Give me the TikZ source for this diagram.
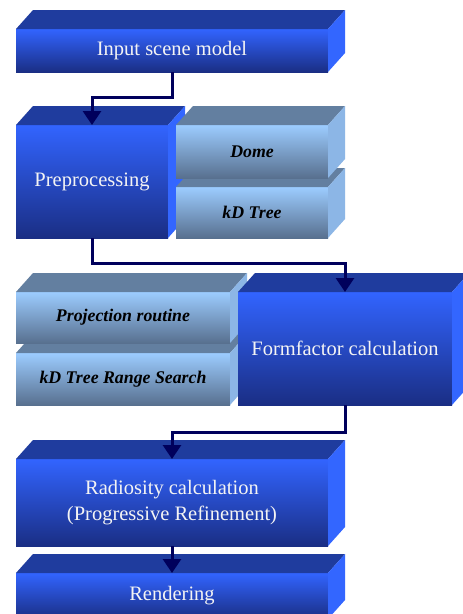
\documentclass[tikz,border=0pt]{standalone}
\usepackage{fontspec}
\setmainfont{Liberation Serif}
\usetikzlibrary{calc,arrows.meta}

\definecolor{bluehi}{HTML}{3264FF}
\definecolor{bluemid}{HTML}{2850DC}
\definecolor{bluelo}{HTML}{1A2E84}
\definecolor{bluetopc}{HTML}{1F3C9E}
\definecolor{bluesidec}{HTML}{3366FF}
\definecolor{grayhi}{HTML}{9CCCFF}
\definecolor{graylo}{HTML}{58708F}
\definecolor{graytopc}{HTML}{637FA0}
\definecolor{graysidec}{HTML}{8CB6E6}
\definecolor{arrowc}{HTML}{00005C}
\definecolor{textwhite}{HTML}{F4F4F4}

\tikzset{
  front/.style={draw=none, inner sep=0pt, outer sep=0pt, anchor=north west, align=center},
  bluefront/.style={front, top color=bluehi, middle color=bluemid, bottom color=bluelo,
    text=textwhite, font=\rmfamily\fontsize{20.5}{26}\selectfont},
  grayfront/.style={front, top color=grayhi, bottom color=graylo,
    text=black, font=\rmfamily\fontsize{17.8}{20}\selectfont\bfseries\itshape},
  bluetop/.style={fill=bluetopc},
  blueside/.style={fill=bluesidec},
  graytop/.style={fill=graytopc},
  grayside/.style={fill=graysidec},
  flow/.style={draw=arrowc, line width=3pt, line join=miter,
    -{Triangle[width=18pt,length=14pt]}}
}

% top and right faces of a block whose front face is node #1
\newcommand\blockfaces[3]{%
  \fill[#2] (#1.north west) -- ++(17,-19) -- ($(#1.north east)+(17,-19)$) -- (#1.north east) -- cycle;
  \fill[#3] (#1.north east) -- ++(17,-19) -- ($(#1.south east)+(17,-19)$) -- (#1.south east) -- cycle;}

\begin{document}
\begin{tikzpicture}[x=1pt,y=-1pt]
  \clip (0,0) rectangle (463,614);
  \fill[white] (0,0) rectangle (463,614);

  % input
  \node[bluefront, minimum width=312pt, minimum height=43pt] (inp) at (16,29) {Input scene model};
  \blockfaces{inp}{bluetop}{blueside}

  % preprocessing with its two helpers
  \node[bluefront, minimum width=152pt, minimum height=113pt] (pre) at (16,125) {Preprocessing};
  \blockfaces{pre}{bluetop}{blueside}
  \node[grayfront, minimum width=152pt, minimum height=51pt] (kdt) at (176,187) {kD Tree};
  \blockfaces{kdt}{graytop}{grayside}
  \node[grayfront, minimum width=152pt, minimum height=53pt] (dome) at (176,125) {Dome};
  \blockfaces{dome}{graytop}{grayside}

  % form factors with their two helpers
  \node[grayfront, minimum width=214pt, minimum height=52pt] (kdr) at (16,353) {kD Tree Range Search};
  \blockfaces{kdr}{graytop}{grayside}
  \node[grayfront, minimum width=214pt, minimum height=51pt] (proj) at (16,292) {Projection routine};
  \blockfaces{proj}{graytop}{grayside}
  \node[bluefront, minimum width=214pt, minimum height=113pt] (ff) at (238,292) {Formfactor calculation};
  \blockfaces{ff}{bluetop}{blueside}

  % radiosity and rendering
  \node[bluefront, minimum width=312pt, minimum height=87pt] (rad) at (16,459)
    {Radiosity calculation\\(Progressive Refinement)};
  \blockfaces{rad}{bluetop}{blueside}
  \node[bluefront, minimum width=312pt, minimum height=46pt] (ren) at (16,573) {Rendering};
  \blockfaces{ren}{bluetop}{blueside}

  % flow between the stages
  \draw[flow] (inp.south) -- ++(0,25) -| (pre.north);
  \draw[flow] (pre.south) -- ++(0,25) -| (ff.north);
  \draw[flow] (ff.south) -- ++(0,27) -| (rad.north);
  \draw[flow] (rad.south) -- (ren.north);
\end{tikzpicture}
\end{document}
